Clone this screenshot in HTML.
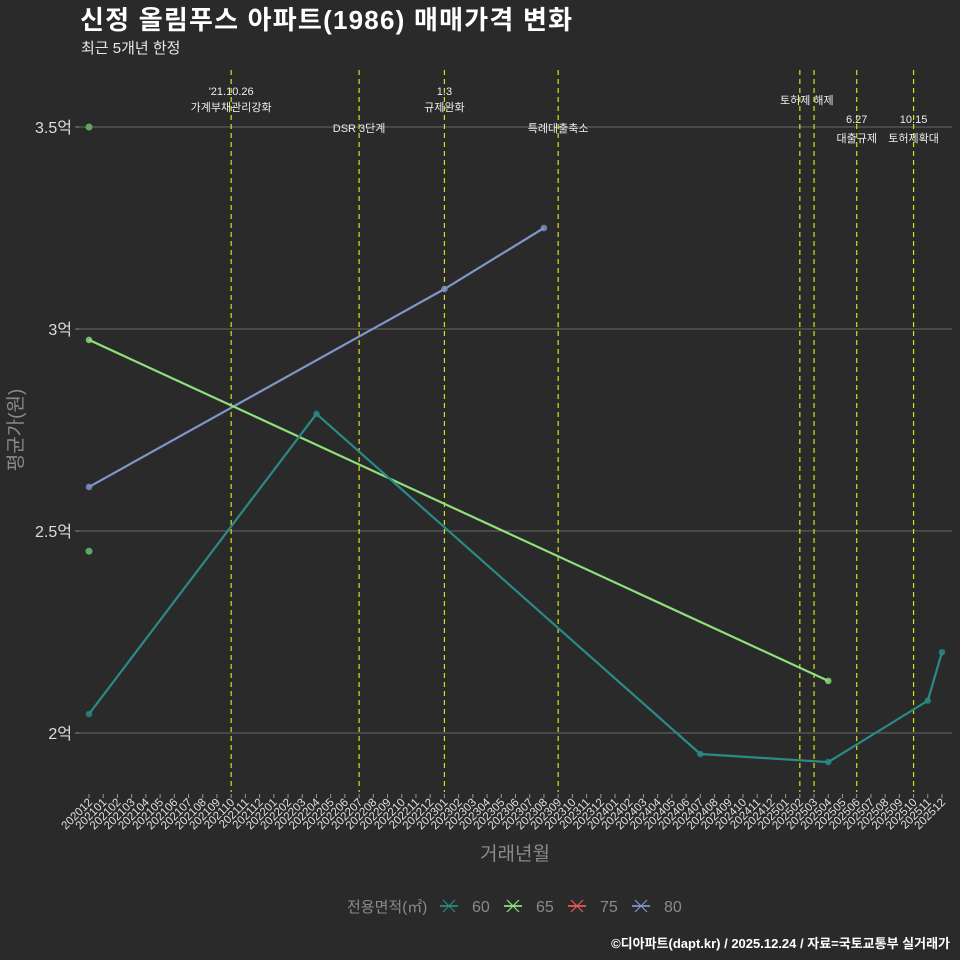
<!DOCTYPE html>
<html><head><meta charset="utf-8"><style>
html,body{margin:0;padding:0;background:#2b2a2b;}
svg{display:block;font-family:"Liberation Sans","Noto Sans CJK KR",sans-serif;}
</style></head><body>
<svg id="c" width="960" height="960" xmlns="http://www.w3.org/2000/svg">
<rect width="960" height="960" fill="#2b2a2b"/>
<text x="80" y="29" font-size="26" font-weight="bold" fill="#ffffff" textLength="492">신정 올림푸스 아파트(1986) 매매가격 변화</text>
<text x="81" y="53" font-size="15" fill="#e8e8e8">최근 5개년 한정</text>
<g id="grid"></g>
<g id="vlines"></g>
<g id="series"></g>
<g id="xaxis"></g>
<g id="yaxis"></g>
<text x="515" y="860" font-size="19" fill="#8a8a8a" text-anchor="middle">거래년월</text>
<text transform="translate(22,430) rotate(-90)" font-size="19" fill="#8a8a8a" text-anchor="middle">평균가(원)</text>
<g id="legend"></g>
<text x="950" y="948" font-size="13" font-weight="bold" fill="#ffffff" text-anchor="end">©디아파트(dapt.kr) / 2025.12.24 / 자료=국토교통부 실거래가</text>
</svg>
<script>
const months=[];for(let y=2020,m=12;y<2026;){months.push(y+String(m).padStart(2,'0'));m++;if(m>12){m=1;y++;}if(y===2026)break;}
const yTicks=[2,2.5,3,3.5];
const yTickLabels=['2억','2.5억','3억','3.5억'];
const s60Months=['202012','202204','202407','202504','202511','202512'];
const s60Values=[2.047,2.79,1.948,1.928,2.08,2.2];
const s65Months=['202012','202504'];
const s65Values=[2.973,2.129];
const s80Months=['202012','202301','202308'];
const s80Values=[2.609,3.099,3.25];
const extraMonths=['202012','202012'];
const extraValues=[3.5,2.45];
const eventMonths=['202110','202207','202301','202309','202502','202503','202506','202510'];
const eventLine1=['\'21.10.26','','1.3','','토허제 해제','','6.27','10.15'];
const eventLine2=['가계부채관리강화','DSR 3단계','규제완화','특례대출축소','','','대출규제','토허제확대'];
const legendLabels=['60','65','75','80'];
const legendColors=['#2a8a86','#8ee07a','#e85a5a','#7f96c8'];
const legendKeyX=[440,504,568,632];
const NS='http://www.w3.org/2000/svg';
const X=m=>89+months.indexOf(m)*(853/60);
const Y=v=>733-(v-2)*404;
function el(tag,attrs,parent,txt){const e=document.createElementNS(NS,tag);for(const k in attrs)e.setAttribute(k,attrs[k]);if(txt!==undefined)e.textContent=txt;document.getElementById(parent).appendChild(e);return e;}
yTicks.forEach((t,i)=>{
 const g=el('line',{x1:78,x2:952,y1:Y(t),y2:Y(t),stroke:'#5c5c5c','stroke-width':1.2},'grid');
 
 
 const tk=el('line',{x1:75,x2:79,y1:Y(t),y2:Y(t),stroke:'#888'},'yaxis');
 
 
 const l=el('text',{x:72,y:Y(t)+6,'font-size':16,fill:'#dddddd','text-anchor':'end'},'yaxis',yTickLabels[i]);
 
 
});
months.forEach(m=>{
 const x=X(m);
 const tk=el('line',{x1:x,x2:x,y1:794,y2:798,stroke:'#999'},'xaxis');
 
 
 const l=el('text',{transform:`translate(${x+4},803) rotate(-45)`,'font-size':11.5,fill:'#e0e0e0','text-anchor':'end'},'xaxis',m);
 
 
});
eventMonths.forEach((m,i)=>{
 const x=X(m);
 const v=el('line',{x1:x,x2:x,y1:70,y2:792,stroke:'#d8e01c','stroke-width':1.2,'stroke-dasharray':'5,4'},'vlines');
 
 
 const lowRow=(i===1||i===3||i>=6);
 const y1=lowRow?(i>=6?123:0):95, y2=lowRow?(i>=6?142:132):111;
 let cx=x; if(i===4) cx=X('202502')+7; if(i===5) return;
 if(eventLine1[i]){const t=el('text',{x:cx,y:i===4?104:y1,'font-size':11,fill:'#eeeeee','text-anchor':'middle'},'vlines',eventLine1[i]);
  
  }
 if(eventLine2[i]){const t=el('text',{x:cx,y:y2,'font-size':11,fill:'#eeeeee','text-anchor':'middle'},'vlines',eventLine2[i]);
  
  }
});
function series(ms,vs,color,name){
 const p=el('polyline',{points:ms.map((m,i)=>X(m)+','+Y(vs[i])).join(' '),fill:'none',stroke:color,'stroke-width':2.2},'series');
 
 
 ms.forEach((m,i)=>{const c=el('circle',{cx:X(m),cy:Y(vs[i]),r:3.3,fill:color,opacity:0.8},'series');
  
  });
}
series(s80Months,s80Values,'#7f96c8','series-80');
series(s65Months,s65Values,'#8ee07a','series-65');
series(s60Months,s60Values,'#2a8a86','series-60');
extraMonths.forEach((m,i)=>{const c=el('circle',{cx:X(m),cy:Y(extraValues[i]),r:3.5,fill:'#5fa85f'},'series');
 
 });
el('text',{x:347,y:912,'font-size':15,fill:'#8a8a8a'},'legend','전용면적(㎡)');
legendLabels.forEach((l,i)=>{
 const x=legendKeyX[i];
 const a=el('line',{x1:x,x2:x+18,y1:906,y2:906,stroke:legendColors[i],'stroke-width':1.8},'legend');
 
 
 el('path',{d:`M${x+3} ${900}L${x+15} ${912}M${x+15} ${900}L${x+3} ${912}`,stroke:legendColors[i],'stroke-width':1.2},'legend');
 const t=el('text',{x:x+32,y:912,'font-size':16,fill:'#8a8a8a'},'legend',l);
 
 
});
</script>
</body></html>
